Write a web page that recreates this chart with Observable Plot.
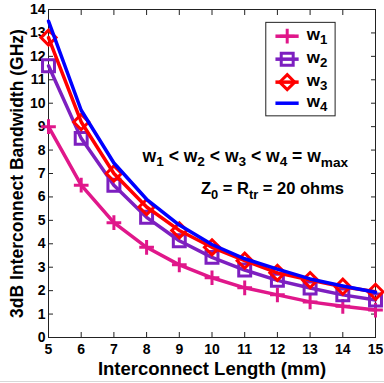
<!DOCTYPE html>
<html>
<head>
<meta charset="utf-8">
<script src="https://cdn.jsdelivr.net/npm/d3@7"></script>
<script src="https://cdn.jsdelivr.net/npm/@observablehq/plot@0.6"></script>
<style>
  html, body { margin: 0; padding: 0; background: #fff; }
  #chart svg { display: block; }
  .sep { height: 1px; background: #d8d8d8; width: 384px; }
</style>
</head>
<body>
<div id="chart"></div>
<div class="sep"></div>
<script>
// ---- data ----
const lengths = [5, 6, 7, 8, 9, 10, 11, 12, 13, 14, 15];
const w1 = [9.0, 6.5, 4.9, 3.85, 3.1, 2.55, 2.12, 1.82, 1.52, 1.33, 1.17];
const w2 = [11.6, 8.5, 6.5, 5.13, 4.13, 3.42, 2.88, 2.44, 2.11, 1.82, 1.6];
const w3 = [12.8, 9.2, 7.0, 5.57, 4.57, 3.85, 3.28, 2.76, 2.45, 2.17, 1.95];
const w4 = [13.5, 9.7, 7.45, 5.9, 4.8, 3.97, 3.36, 2.92, 2.5, 2.2, 1.93];
const seriesNames = ["w_{1}", "w_{2}", "w_{3}", "w_{4}"];
const seriesValues = [w1, w2, w3, w4];
const xTicks = [5, 6, 7, 8, 9, 10, 11, 12, 13, 14, 15];
const yTicks = [0, 1, 2, 3, 4, 5, 6, 7, 8, 9, 10, 11, 12, 13, 14];
const xLabel = "Interconnect Length (mm)";
const yLabel = "3dB Interconnect Bandwidth (GHz)";
const note1 = "w_{1} < w_{2} < w_{3} < w_{4} = w_{max}";
const note2 = "Z_{0} = R_{tr} = 20 ohms";

// ---- styles ----
const colors = ["#e0178a", "#7d1fc0", "#ff0000", "#0000ff"];
const symbols = ["plus", "square2", "diamond2", null];
const radii = [4.8, 7.6, 6.8, 0];

const rows = [];
seriesValues.forEach((vals, i) => vals.forEach((v, j) => rows.push({s: i, x: lengths[j], y: v})));
const legend = seriesNames.map((n, i) => ({s: i, name: n, y: [12.86, 11.88, 10.9, 10.0][i]}));

const font = "'Liberation Sans', Arial, sans-serif";
const marks = [
  Plot.frame({stroke: "#222", strokeWidth: 1}),
  Plot.axisX({anchor: "bottom", ticks: xTicks, tickSize: -5, tickPadding: 12, fontSize: 14, fontWeight: "bold", stroke: "#222", label: null}),
  Plot.axisX({anchor: "top", ticks: xTicks, tickSize: -5, text: null, stroke: "#222", label: null}),
  Plot.axisY({anchor: "left", ticks: yTicks, tickSize: -5, tickPadding: 8, fontSize: 14, fontWeight: "bold", stroke: "#222", label: null}),
  Plot.axisY({anchor: "right", ticks: yTicks, tickSize: -5, text: null, stroke: "#222", label: null})
];
seriesValues.forEach((vals, i) => {
  const data = rows.filter(r => r.s === i);
  marks.push(Plot.line(data, {x: "x", y: "y", stroke: colors[i], strokeWidth: 3.5}));
  if (symbols[i]) marks.push(Plot.dot(data, {x: "x", y: "y", symbol: symbols[i], r: radii[i], stroke: colors[i], strokeWidth: 3, fill: "none"}));
});
// legend
marks.push(Plot.rect([0], {x1: 11.66, x2: 13.78, y1: 9.44, y2: 13.43, fill: "white", stroke: "#222", strokeWidth: 1}));
marks.push(Plot.link(legend, {x1: 11.94, x2: 12.65, y1: "y", y2: "y", stroke: d => colors[d.s], strokeWidth: 3.5}));
legend.forEach((d, i) => {
  if (symbols[i]) marks.push(Plot.dot([d], {x: 12.3, y: "y", symbol: symbols[i], r: radii[i], stroke: colors[i], strokeWidth: 3, fill: "none"}));
});
marks.push(Plot.text(legend, {x: 12.9, y: "y", text: "name", textAnchor: "start", lineAnchor: "middle", fontSize: 17, fontWeight: "bold", fill: "black", dy: -2}));
marks.push(Plot.text([note1], {x: 11.02, y: 7.75, text: d => d, textAnchor: "middle", fontSize: 17.5, fontWeight: "bold", fill: "black"}));
marks.push(Plot.text([note2], {x: 11.85, y: 6.35, text: d => d, textAnchor: "middle", fontSize: 16.5, fontWeight: "bold", fill: "black"}));
marks.push(Plot.text([xLabel], {frameAnchor: "bottom", dy: 32, text: d => d, fontSize: 18.5, fontWeight: "bold", fill: "black", textAnchor: "middle", lineAnchor: "middle"}));
marks.push(Plot.text([yLabel], {frameAnchor: "left", dx: -31, rotate: -90, text: d => d, fontSize: 17.5, fontWeight: "bold", fill: "black", textAnchor: "middle", lineAnchor: "middle"}));

const chart = Plot.plot({
  width: 384,
  height: 381,
  marginLeft: 48,
  marginRight: 9,
  marginTop: 9,
  marginBottom: 44,
  style: {fontFamily: font, background: "white", overflow: "visible"},
  x: {domain: [5, 15]},
  y: {domain: [0, 14]},
  marks
});

// subscripts: turn "_{...}" into tspans
chart.querySelectorAll("text").forEach(t => {
  const s = t.textContent;
  if (!s.includes("_{")) return;
  t.textContent = "";
  const re = /_\{([^}]*)\}/g;
  let last = 0, m;
  const ns = "http://www.w3.org/2000/svg";
  let pendingUp = false;
  const add = (txt, sub) => {
    const ts = document.createElementNS(ns, "tspan");
    ts.textContent = txt;
    if (sub) { ts.setAttribute("dy", "0.35em"); ts.setAttribute("font-size", "0.78em"); pendingUp = true; }
    else if (pendingUp) { ts.setAttribute("dy", "-0.27em"); pendingUp = false; }
    t.appendChild(ts);
  };
  while ((m = re.exec(s))) {
    if (m.index > last) add(s.slice(last, m.index), false);
    add(m[1], true);
    last = re.lastIndex;
  }
  if (last < s.length) add(s.slice(last), false);
});
document.getElementById("chart").appendChild(chart);
</script>
</body>
</html>
